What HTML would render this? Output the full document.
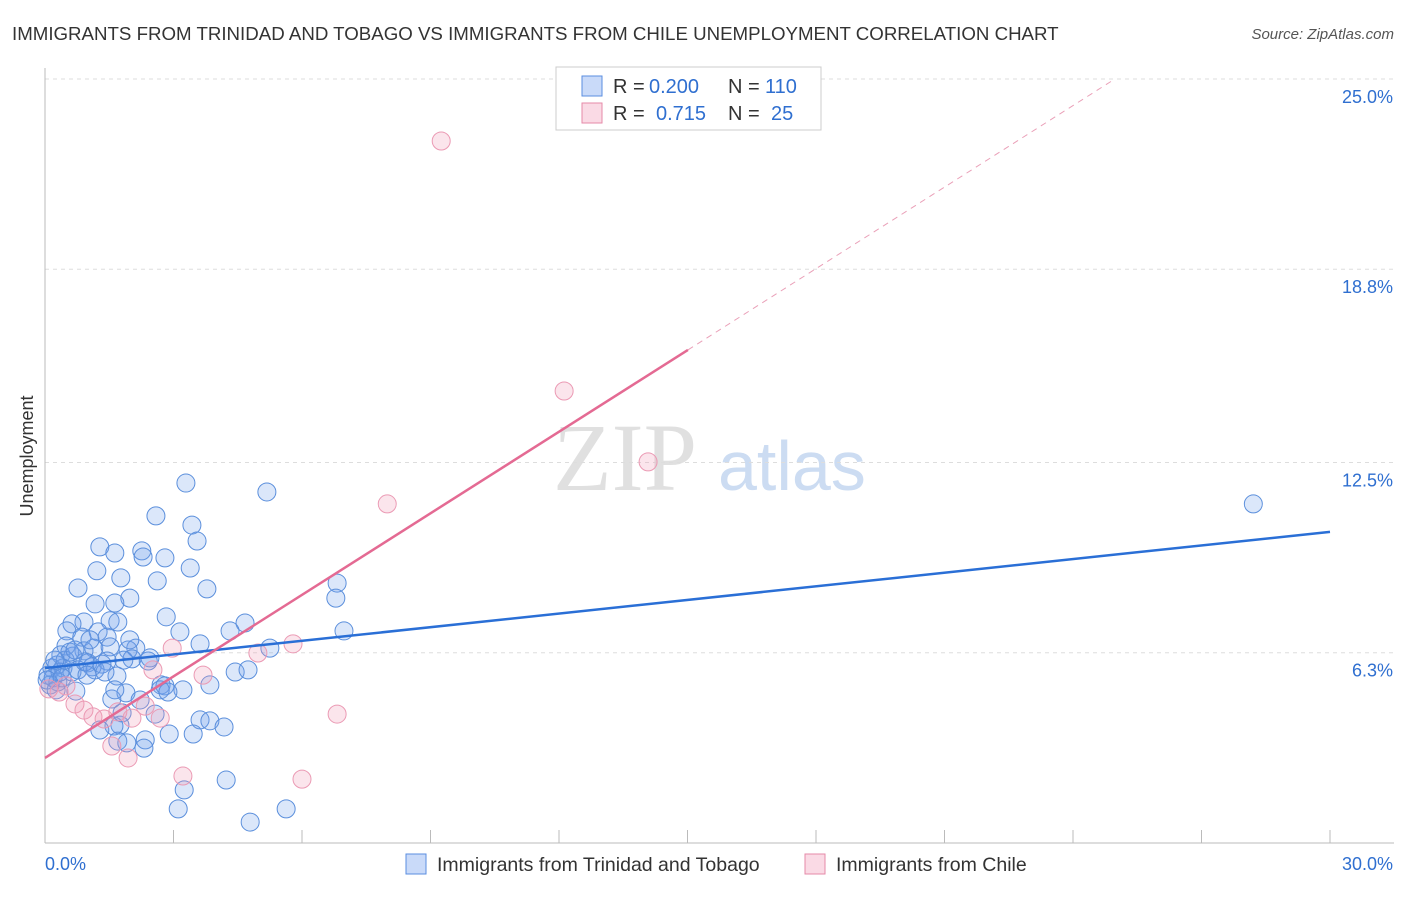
<!DOCTYPE html>
<html><head><meta charset="utf-8"><style>
body{margin:0;background:#fff;font-family:"Liberation Sans",sans-serif;}
</style></head><body>
<svg id="chart" width="1406" height="892" viewBox="0 0 1406 892" font-family="Liberation Sans, sans-serif">
<text x="12" y="40" font-size="18.7" fill="#333">IMMIGRANTS FROM TRINIDAD AND TOBAGO VS IMMIGRANTS FROM CHILE UNEMPLOYMENT CORRELATION CHART</text>
<text x="1394" y="39" font-size="15" fill="#555" text-anchor="end" font-style="italic">Source: ZipAtlas.com</text>
<g>
<text x="553" y="490" font-size="96" fill="#e0e0e0" style="font-family:'Liberation Serif',serif">ZIP</text>
<text x="718" y="490" font-size="70" fill="#ccdcf2">atlas</text>
</g>
<g id="grid"></g>
<g id="axes"></g>
<g id="marks"></g>
<text transform="translate(33,456) rotate(-90)" font-size="18" fill="#333" text-anchor="middle">Unemployment</text>
<g>
<rect x="556" y="67" width="265" height="63" fill="#fff" stroke="#ccc"/>
<rect x="582" y="76" width="20" height="20" fill="rgba(100,149,237,0.35)" stroke="#5a8ee0"/>
<rect x="582" y="103" width="20" height="20" fill="rgba(240,150,180,0.35)" stroke="#e68aa8"/>
<text x="613" y="93" font-size="20" fill="#333">R =</text>
<text x="649" y="93" font-size="20" fill="#2f6fd0">0.200</text>
<text x="728" y="93" font-size="20" fill="#333">N =</text>
<text x="765" y="93" font-size="20" fill="#2f6fd0">110</text>
<text x="613" y="120" font-size="20" fill="#333">R =</text>
<text x="656" y="120" font-size="20" fill="#2f6fd0">0.715</text>
<text x="728" y="120" font-size="20" fill="#333">N =</text>
<text x="771" y="120" font-size="20" fill="#2f6fd0">25</text>
</g>
<g>
<rect x="406" y="854" width="20" height="20" fill="rgba(100,149,237,0.35)" stroke="#5a8ee0"/>
<text x="437" y="871" font-size="19.5" fill="#333">Immigrants from Trinidad and Tobago</text>
<rect x="805" y="854" width="20" height="20" fill="rgba(240,150,180,0.35)" stroke="#e68aa8"/>
<text x="836" y="871" font-size="19.5" fill="#333">Immigrants from Chile</text>
</g>
</svg>
<script>
const yTicks=[6.3,12.5,18.8,25.0];
const yTickLabels=["6.3%","12.5%","18.8%","25.0%"];
const xTickCount=10;
const blueX=[3.29,5.18,2.59,3.43,3.55,1.28,1.63,2.26,2.29,2.80,1.21,3.39,1.77,2.62,0.77,3.78,6.82,6.79,1.98,1.17,1.63,2.83,1.52,1.70,0.91,0.63,3.15,0.51,1.24,4.67,4.32,6.98,1.45,0.86,3.62,2.12,1.94,0.49,1.14,1.52,0.91,0.37,0.65,5.25,2.03,1.84,2.41,1.45,1.00,0.28,0.16,0.42,0.77,1.17,4.44,4.74,1.68,0.63,0.07,0.19,0.30,2.71,2.80,3.85,3.22,1.89,0.72,1.56,2.57,3.62,3.85,4.18,1.75,1.61,1.28,2.90,3.46,2.34,1.70,1.91,2.31,4.23,3.25,3.11,5.63,4.79,1.10,1.33,0.93,0.35,0.12,0.26,28.21,0.47,0.58,0.23,0.05,0.40,1.40,1.98,2.45,1.05,0.70,2.69,2.22,2.87,0.98,1.63,1.80];
const blueY=[11.83,11.54,10.76,10.46,9.94,9.75,9.55,9.62,9.42,9.39,8.97,9.06,8.74,8.64,8.41,8.38,8.57,8.08,8.08,7.89,7.92,7.47,7.34,7.30,7.30,7.24,6.98,7.01,6.98,7.27,7.01,7.01,6.81,6.81,6.59,6.45,6.39,6.52,6.45,6.49,6.36,6.23,6.19,6.45,6.10,6.06,6.03,6.03,5.97,5.90,5.80,5.80,5.74,5.74,5.67,5.74,5.54,5.67,5.57,5.48,5.35,5.25,5.22,5.25,5.09,4.99,5.05,4.79,4.30,4.11,4.08,3.88,3.94,3.91,3.78,3.65,3.65,3.46,3.42,3.36,3.19,2.15,1.83,1.21,1.21,0.78,5.84,5.93,6.00,5.67,5.25,5.09,11.15,6.06,6.32,6.06,5.41,5.48,5.67,6.72,6.13,6.72,6.39,5.09,4.76,5.02,5.57,5.09,4.34];
const pinkX=[9.25,12.12,14.08,7.99,5.79,4.97,2.97,2.52,3.69,0.09,0.33,0.49,0.70,0.91,1.12,1.38,1.70,2.03,2.34,2.69,1.56,1.94,3.22,6.00,6.82];
const pinkY=[22.98,14.83,12.52,11.15,6.59,6.29,6.45,5.74,5.57,5.12,5.02,5.22,4.63,4.43,4.21,4.14,4.37,4.17,4.56,4.17,3.26,2.87,2.28,2.18,4.30];
const blueTrend=[5.80,10.24]; // y at x=0 and x=30
const pinkTrend=[2.87,0.886]; // intercept, slope
const X0=45,X1=1330,Y0=846,YS=30.68;
const sx=v=>X0+v/30*(X1-X0), sy=v=>Y0-v*YS;
const NS="http://www.w3.org/2000/svg";
function mk(tag,attrs,parent){const e=document.createElementNS(NS,tag);for(const k in attrs)e.setAttribute(k,attrs[k]);parent.appendChild(e);return e;}
const grid=document.getElementById('grid'),axes=document.getElementById('axes'),marks=document.getElementById('marks');
yTicks.forEach((t,i)=>{
  const l=mk('line',{x1:45,x2:1394,y1:sy(t),y2:sy(t),stroke:'#ddd','stroke-dasharray':'4,4'},grid);
  
  
  const tx=mk('text',{x:1393,y:sy(t)+24,'font-size':18,fill:'#2f6fd0','text-anchor':'end'},axes);
  tx.textContent=yTickLabels[i];
  
  
});
mk('line',{x1:45,x2:45,y1:68,y2:843,stroke:'#bbb'},axes);
mk('line',{x1:45,x2:1394,y1:843,y2:843,stroke:'#bbb'},axes);
for(let i=0;i<=xTickCount;i++){
  const t=mk('line',{x1:sx(i*3),x2:sx(i*3),y1:830,y2:843,stroke:'#bbb'},axes);
  
  
}
const xl0=mk('text',{x:45,y:870,'font-size':18,fill:'#2f6fd0'},axes);xl0.textContent='0.0%';


const xl1=mk('text',{x:1393,y:870,'font-size':18,fill:'#2f6fd0','text-anchor':'end'},axes);xl1.textContent='30.0%';


blueX.forEach((x,i)=>{
  const c=mk('circle',{cx:sx(x),cy:sy(blueY[i]),r:9,fill:'rgba(110,160,235,0.25)',stroke:'#5b8fdc','stroke-width':1},marks);
  
  
});
pinkX.forEach((x,i)=>{
  const c=mk('circle',{cx:sx(x),cy:sy(pinkY[i]),r:9,fill:'rgba(240,150,180,0.25)',stroke:'#eb9ab4','stroke-width':1},marks);
  
  
});
const bl=mk('line',{x1:sx(0),y1:sy(blueTrend[0]),x2:sx(30),y2:sy(blueTrend[1]),stroke:'#2a6fd6','stroke-width':2.5},marks);


const pEnd=15.01, pMax=(25-pinkTrend[0])/pinkTrend[1];
const pl=mk('line',{x1:sx(0),y1:sy(pinkTrend[0]),x2:sx(pEnd),y2:sy(pinkTrend[0]+pinkTrend[1]*pEnd),stroke:'#e46a93','stroke-width':2.5},marks);


const pd=mk('line',{x1:sx(pEnd),y1:sy(pinkTrend[0]+pinkTrend[1]*pEnd),x2:sx(pMax),y2:sy(25),stroke:'#eaa0b8','stroke-width':1,'stroke-dasharray':'6,5'},marks);


</script>
</body></html>
